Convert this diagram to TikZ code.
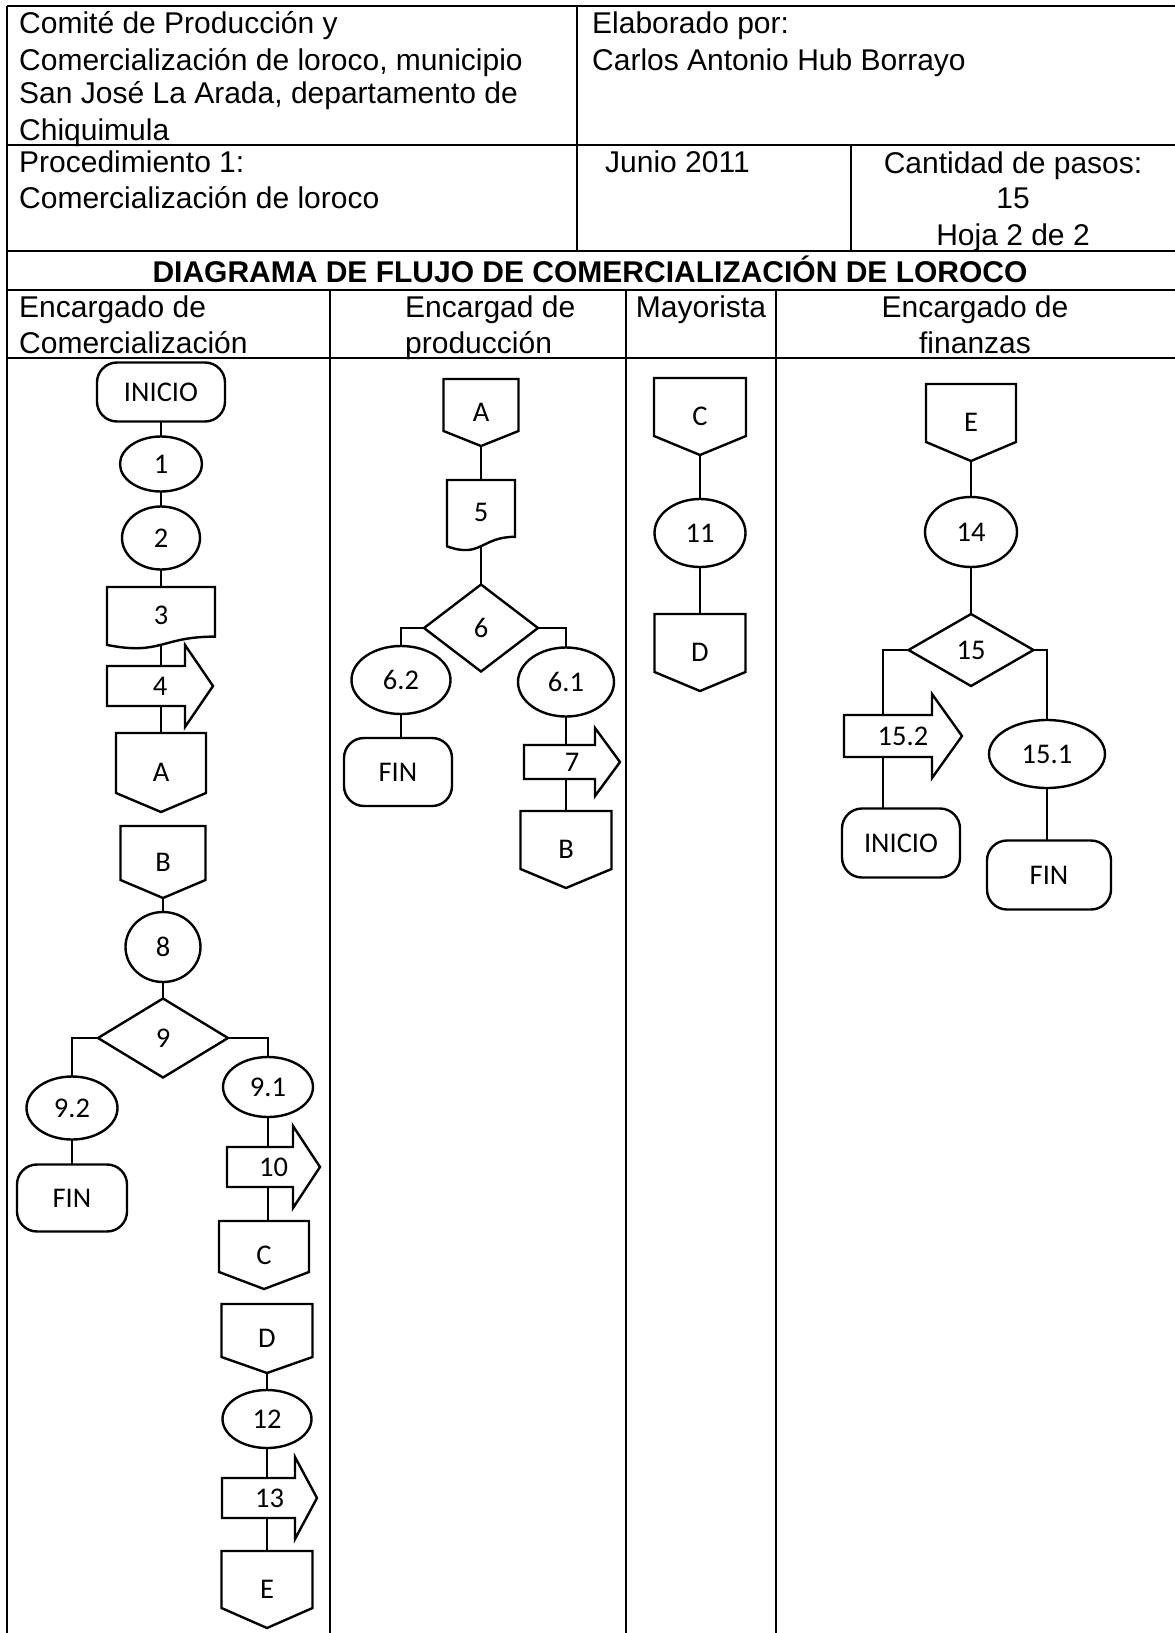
\documentclass[tikz,border=0pt]{standalone}
\usepackage{fontspec}
\setmainfont{Liberation Sans}
\newfontfamily\flowfont{Carlito}
\usetikzlibrary{shapes.geometric,backgrounds}

\tikzset{
  shp/.style={draw=black, fill=white, line width=2.4pt, line join=miter},
  fctext/.style={inner sep=0pt, outer sep=0pt, font=\flowfont\fontsize{28.5}{31}\selectfont},
  fcnode/.style={fctext, draw=black, fill=white, line width=2.4pt},
  proc/.style={fcnode, ellipse},
  term/.style={fcnode, rectangle, rounded corners=20pt},
  dec/.style={fcnode, diamond},
  conn/.style={line width=2.4pt},
  gridline/.style={line width=2.6pt},
  tx/.style={inner sep=0pt, font=\fontsize{30}{35}\selectfont, anchor=base west},
  txc/.style={inner sep=0pt, font=\fontsize{30}{35}\selectfont, anchor=base},
}

% off-page connector: name, cx, top, width, side-bottom, tip, text
\newcommand\OffPg[7]{%
  \draw[shp] ({#2-#4/2},#3) -- ({#2+#4/2},#3) -- ({#2+#4/2},#5) -- (#2,#6) -- ({#2-#4/2},#5) -- cycle;
  \node[fctext, minimum width=#4pt, minimum height={(#6-#3)*1pt}] (#1) at (#2,{(#3+#6)/2}) {#7};
}
% document: name, cx, top, width, H, text
\newcommand\DocShp[6]{%
  \draw[shp] ({#2-#4/2},#3) -- ({#2+#4/2},#3) -- ({#2+#4/2},{#3+0.80*#5})
    .. controls (#2,{#3+0.80*#5}) and (#2,{#3+1.108*#5}) .. ({#2-#4/2},{#3+0.934*#5}) -- cycle;
  \node[fctext, minimum width=#4pt, minimum height={#5*0.9pt}] (#1) at (#2,{#3+#5*0.45}) {#6};
}
% block arrow: name, left x, head start x, tip x, cy, half body, half head, text
\newcommand\BArr[8]{%
  \draw[shp] (#2,{#5-#6}) -- (#3,{#5-#6}) -- (#3,{#5-#7}) -- (#4,#5) -- (#3,{#5+#7}) -- (#3,{#5+#6}) -- (#2,{#5+#6}) -- cycle;
  \node[fctext, minimum width={(#4-#2)*1pt}, minimum height={2*#7*1pt}] (#1) at ({(#2+#4)/2},#5) {#8};
}

\begin{document}
\begin{tikzpicture}[x=1pt,y=-1pt]
\useasboundingbox (0,0) rectangle (1175,1633);

% ---------- table grid ----------
\draw[gridline] (7,6) -- (1175,6);
\draw[gridline] (7,145) -- (1175,145);
\draw[gridline] (7,251) -- (1175,251);
\draw[gridline] (7,290) -- (1175,290);
\draw[gridline] (7,358) -- (1175,358);
\draw[gridline] (7,6) -- (7,1633);
\draw[gridline] (577,6) -- (577,251);
\draw[gridline] (851,145) -- (851,251);
\draw[gridline] (330,290) -- (330,1633);
\draw[gridline] (626,290) -- (626,1633);
\draw[gridline] (776,290) -- (776,1633);

% ---------- table texts ----------
\node[tx] (h1) at (19,33) {Comité de Producción y};
\node[tx] (h2) at (19,70) {Comercialización de loroco, municipio};
\node[tx] (h3) at (19,103) {San José La Arada, departamento de};
\node[tx] (h4) at (19,140) {Chiquimula};
\node[tx] (h5) at (592,33) {Elaborado por:};
\node[tx] (h6) at (592,70) {Carlos Antonio Hub Borrayo};
\node[tx] (h7) at (19,172) {Procedimiento 1:};
\node[tx] (h8) at (19,208) {Comercialización de loroco};
\node[tx] (h9) at (605,172) {Junio 2011};
\node[txc] (h10) at (1013,173) {Cantidad de pasos:};
\node[txc] (h11) at (1013,208) {15};
\node[txc] (h12) at (1013,245) {Hoja 2 de 2};
\node[txc, font=\bfseries\fontsize{30}{35}\selectfont] (title) at (590,282) {DIAGRAMA DE FLUJO DE COMERCIALIZACIÓN DE LOROCO};
\node[tx] (l1a) at (19,317) {Encargado de};
\node[tx] (l1b) at (19,353) {Comercialización};
\node[tx] (l2a) at (405,317) {Encargad de};
\node[tx] (l2b) at (405,353) {producción};
\node[txc] (l3a) at (701,317) {Mayorista};
\node[txc] (l4a) at (975,317) {Encargado de};
\node[txc] (l4b) at (975,353) {finanzas};

% ---------- lane 1 ----------
\node[term, minimum width=128pt, minimum height=59pt] (ini1) at (161,392) {INICIO};
\node[proc, minimum width=82pt, minimum height=55pt] (p1) at (161,464) {1};
\node[proc, minimum width=78pt, minimum height=63pt] (p2) at (161,538) {2};
\DocShp{d3}{161}{587}{108}{62}{3}
\BArr{a4}{107}{185}{213}{686}{20}{41}{4}
\OffPg{A1}{161}{733}{90}{793}{812}{A}
\OffPg{B1}{163}{826}{85}{880}{898}{B}
\node[proc, minimum width=75pt, minimum height=70pt] (p8) at (163,947) {8};
\node[dec, minimum width=130pt, minimum height=79pt] (q9) at (163,1038) {9};
\node[proc, minimum width=91pt, minimum height=63pt] (p92) at (72,1108) {9.2};
\node[term, minimum width=110pt, minimum height=67pt] (fin1) at (72,1198) {FIN};
\node[proc, minimum width=90pt, minimum height=60pt] (p91) at (268,1087) {9.1};
\BArr{a10}{227}{293}{320}{1167}{20}{41}{10}
\OffPg{C1}{264}{1221}{90}{1272}{1289}{C}
\OffPg{D1}{267}{1304}{91}{1357}{1373}{D}
\node[proc, minimum width=89pt, minimum height=58pt] (p12) at (267,1419) {12};
\BArr{a13}{222}{295}{317}{1498}{20}{41}{13}
\OffPg{E1}{267}{1551}{91}{1608}{1628}{E}

% ---------- lane 2 ----------
\OffPg{A2}{481}{379}{75}{431}{446}{A}
\DocShp{d5}{481}{480}{68}{71}{5}
\node[dec, minimum width=114pt, minimum height=87pt] (q6) at (481,628) {6};
\node[proc, minimum width=99pt, minimum height=68pt] (p62) at (401,680) {6.2};
\node[term, minimum width=108pt, minimum height=68pt] (fin2) at (398,772) {FIN};
\node[proc, minimum width=96pt, minimum height=69pt] (p61) at (566,682) {6.1};
\BArr{a7}{524}{595}{620}{762}{17}{34}{7}
\OffPg{B2}{566}{811}{91}{869}{888}{B}

% ---------- lane 3 ----------
\OffPg{C3}{700}{378}{92}{436}{455}{C}
\node[proc, minimum width=91pt, minimum height=68pt] (p11) at (700,533) {11};
\OffPg{D3}{700}{614}{91}{672}{691}{D}

% ---------- lane 4 ----------
\OffPg{E4}{971}{384}{90}{442}{461}{E}
\node[proc, minimum width=92pt, minimum height=70pt] (p14) at (971,532) {14};
\node[dec, minimum width=125pt, minimum height=72pt] (q15) at (971,650) {15};
\BArr{a152}{844}{932}{962}{736}{21}{42}{15.2}
\node[term, minimum width=118pt, minimum height=69pt] (ini2) at (901,843) {INICIO};
\node[proc, minimum width=116pt, minimum height=68pt] (p151) at (1047,754) {15.1};
\node[term, minimum width=124pt, minimum height=69pt] (fin4) at (1049,875) {FIN};

% ---------- connectors ----------
\begin{scope}[on background layer]
\draw[conn] (ini1.south) -- (p1.north);
\draw[conn] (p1.south) -- (p2.north);
\draw[conn] (p2.south) -- (d3.north);
\draw[conn] (d3.south) -- (A1.north);
\draw[conn] (B1.south) -- (p8.north);
\draw[conn] (p8.south) -- (q9.north);
\draw[conn] (q9.west) -| (p92.north);
\draw[conn] (p92.south) -- (fin1.north);
\draw[conn] (q9.east) -| (p91.north);
\draw[conn] (p91.south) -- (C1.north -| p91.south);
\draw[conn] (D1.south) -- (p12.north);
\draw[conn] (p12.south) -- (E1.north);
\draw[conn] (A2.south) -- (d5.north);
\draw[conn] (d5.south) -- (q6.north);
\draw[conn] (q6.west) -| (p62.north);
\draw[conn] (p62.south) -- (fin2.north -| p62.south);
\draw[conn] (q6.east) -| (p61.north);
\draw[conn] (p61.south) -- (B2.north);
\draw[conn] (C3.south) -- (p11.north);
\draw[conn] (p11.south) -- (D3.north);
\draw[conn] (E4.south) -- (p14.north);
\draw[conn] (p14.south) -- (q15.north);
\draw[conn] (q15.west) -| ([xshift=-18pt]ini2.north);
\draw[conn] (q15.east) -| (p151.north);
\draw[conn] (p151.south) -- (fin4.north -| p151.south);
\end{scope}
\end{tikzpicture}
\end{document}
